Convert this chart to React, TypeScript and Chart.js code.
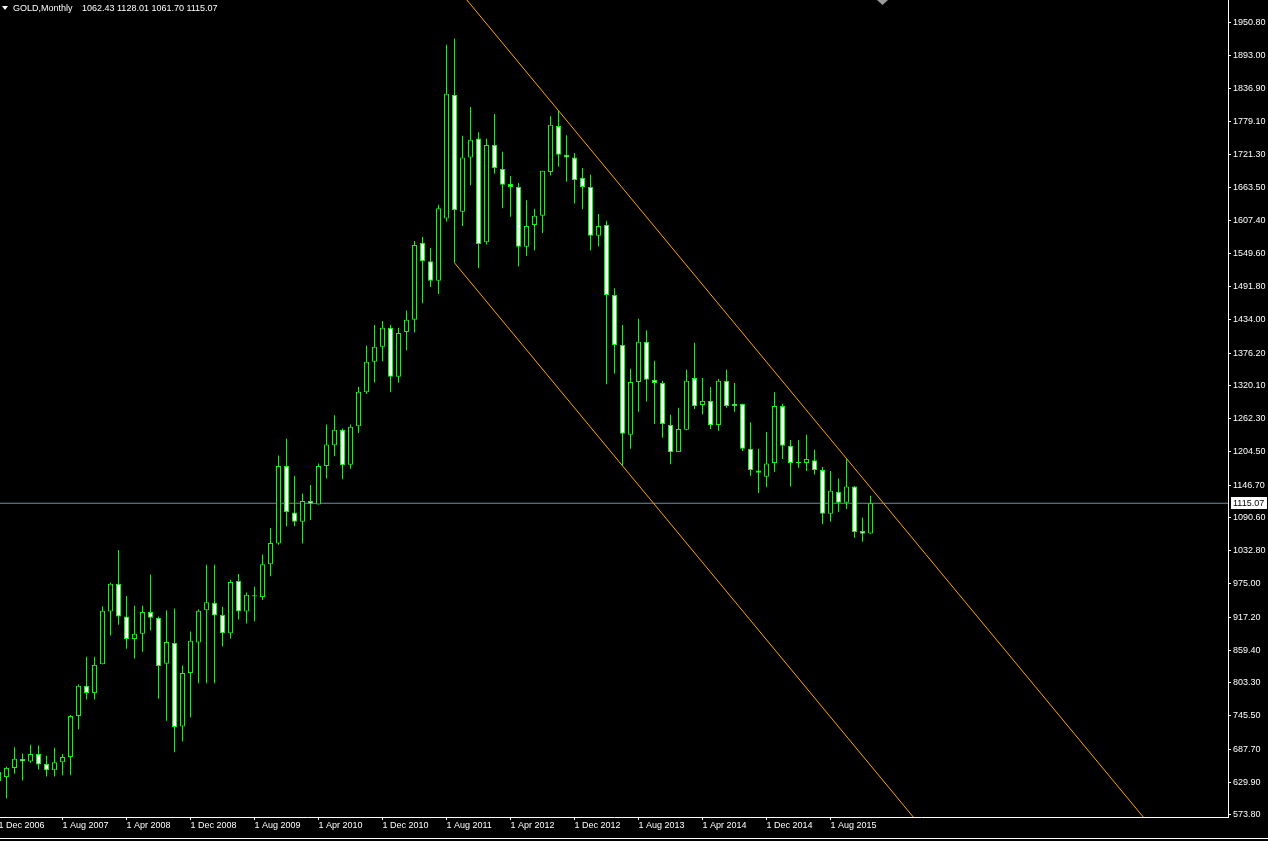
import React, { useEffect, useRef } from 'react';
import { Chart, registerables } from 'chart.js';

Chart.register(...registerables);

// Monthly GOLD candles, Dec 2006 (index 0) .. Jan 2016 (index 109)
const opens = [
  648, 639, 655, 671, 666, 679, 662, 651, 665, 674, 745, 798, 785,
  835, 927, 975, 918, 879, 888, 926, 916, 836, 872, 727, 820,
  873, 929, 942, 921, 889, 980, 927, 955, 952, 1009, 1045, 1180,
  1099, 1083, 1119, 1113, 1180, 1216, 1243, 1182, 1249, 1308, 1361, 1387,
  1420, 1335, 1413, 1434, 1568, 1536, 1502, 1610, 1825, 1622, 1716, 1749,
  1569, 1738, 1696, 1670, 1665, 1561, 1599, 1615, 1691, 1771, 1721, 1716,
  1681, 1665, 1580, 1599, 1477, 1390, 1234, 1326, 1396, 1330, 1324, 1251,
  1204, 1243, 1333, 1286, 1293, 1251, 1328, 1288, 1288, 1210, 1172, 1161,
  1185, 1284, 1215, 1185, 1185, 1190, 1173, 1097, 1135, 1116, 1144, 1067,
  1062.43,
];
const highs = [
  650, 657, 691, 680, 695, 694, 676, 690, 679, 747, 800, 848, 848,
  936, 977, 1034, 954, 937, 937, 991, 918, 929, 932, 833, 892,
  931, 1008, 1008, 935, 982, 992, 960, 970, 1026, 1072, 1198, 1227,
  1163, 1132, 1147, 1184, 1252, 1268, 1245, 1252, 1317, 1389, 1425, 1432,
  1425, 1420, 1450, 1571, 1578, 1559, 1634, 1912, 1923, 1754, 1804, 1760,
  1749, 1792, 1726, 1684, 1672, 1642, 1627, 1693, 1788, 1797, 1755, 1724,
  1698, 1686, 1618, 1606, 1489, 1425, 1349, 1436, 1416, 1363, 1328, 1269,
  1281, 1347, 1394, 1333, 1317, 1331, 1347, 1324, 1288, 1256, 1210, 1239,
  1308, 1288, 1225, 1225, 1234, 1208, 1178, 1171, 1158, 1192, 1145, 1090,
  1128.01,
];
const lows = [
  613, 602, 645, 633, 664, 652, 640, 640, 642, 642, 722, 774, 774,
  835, 885, 904, 862, 845, 857, 894, 775, 737, 682, 701, 743,
  802, 802, 802, 866, 880, 913, 906, 910, 947, 988, 1043, 1075,
  1075, 1045, 1086, 1113, 1158, 1197, 1157, 1175, 1237, 1305, 1325, 1362,
  1308, 1325, 1381, 1412, 1463, 1491, 1479, 1605, 1533, 1597, 1668, 1524,
  1565, 1688, 1628, 1613, 1527, 1545, 1555, 1585, 1685, 1700, 1674, 1636,
  1626, 1555, 1562, 1322, 1340, 1180, 1210, 1274, 1292, 1253, 1229, 1183,
  1204, 1242, 1279, 1270, 1244, 1241, 1281, 1274, 1206, 1163, 1133, 1143,
  1170, 1192, 1144, 1177, 1171, 1165, 1079, 1083, 1100, 1105, 1055, 1048,
  1061.70,
];
const closes = [
  632, 655, 671, 666, 679, 661, 651, 665, 674, 745, 798, 785, 834,
  928, 975, 918, 879, 888, 926, 916, 832, 874, 726, 820, 876,
  928, 943, 920, 889, 978, 927, 956, 953, 1009, 1046, 1180, 1100,
  1083, 1119, 1114, 1180, 1217, 1243, 1181, 1248, 1309, 1361, 1387, 1420,
  1335, 1411, 1434, 1564, 1536, 1502, 1628, 1827, 1625, 1716, 1747, 1566,
  1738, 1698, 1669, 1665, 1561, 1597, 1615, 1693, 1773, 1721, 1716, 1677,
  1665, 1580, 1597, 1477, 1390, 1236, 1326, 1396, 1330, 1324, 1253, 1204,
  1244, 1328, 1284, 1293, 1251, 1328, 1284, 1284, 1210, 1173, 1168, 1184,
  1284, 1215, 1185, 1185, 1192, 1173, 1097, 1137, 1116, 1144, 1065, 1062,
  1115.07,
];

const yTickValues = [
  1950.8, 1893.0, 1836.9, 1779.1, 1721.3, 1663.5, 1607.4, 1549.6, 1491.8,
  1434.0, 1376.2, 1320.1, 1262.3, 1204.5, 1146.7, 1090.6, 1032.8, 975.0,
  917.2, 859.4, 803.3, 745.5, 687.7, 629.9, 573.8,
];
const xTickIndices = [0, 8, 16, 24, 32, 40, 48, 56, 64, 72, 80, 88, 96, 104];
const xTickLabels = [
  '1 Dec 2006', '1 Aug 2007', '1 Apr 2008', '1 Dec 2008', '1 Aug 2009',
  '1 Apr 2010', '1 Dec 2010', '1 Aug 2011', '1 Apr 2012', '1 Dec 2012',
  '1 Aug 2013', '1 Apr 2014', '1 Dec 2014', '1 Aug 2015',
];

const bidPrice = 1115.07;
const upperChannel = [{ x: 56, y: 2032.8 }, { x: 146, y: 520.8 }];
const lowerChannel = [{ x: 57, y: 1533 }, { x: 117, y: 525 }];

const symbolTitle = 'GOLD,Monthly';
const lastBarText = '1062.43 1128.01 1061.70 1115.07';

const yMin = 569.6;
const yMax = 1990;
const xMin = 0.1875;
const xMax = 153.6875;

const FONT = '"Liberation Sans", Arial, sans-serif';
const GREEN = '#00FF00';

const decorPlugin = {
  id: 'mtDecor',
  beforeDraw(chart: any) {
    const ctx = chart.ctx;
    ctx.save();
    ctx.fillStyle = '#000000';
    ctx.fillRect(0, 0, chart.width, chart.height);
    ctx.restore();
  },
  afterDraw(chart: any) {
    const ctx = chart.ctx;
    const area = chart.chartArea;
    ctx.save();
    // bid price box on the price axis
    const yb = Math.round(chart.scales.y.getPixelForValue(bidPrice));
    ctx.fillStyle = '#FFFFFF';
    ctx.fillRect(area.right + 3, yb - 6, 36, 12);
    ctx.fillStyle = '#000000';
    ctx.font = '9px ' + FONT;
    ctx.textBaseline = 'middle';
    ctx.textAlign = 'left';
    ctx.fillText(bidPrice.toFixed(2), area.right + 5, yb + 0.5);
    // title
    ctx.fillStyle = '#FFFFFF';
    ctx.beginPath();
    ctx.moveTo(2, 6);
    ctx.lineTo(8, 6);
    ctx.lineTo(5, 10);
    ctx.closePath();
    ctx.fill();
    ctx.fillText(symbolTitle, 13, 8.5);
    ctx.fillText(lastBarText, 82, 8.5);
    // chart shift marker
    ctx.fillStyle = '#9A9A9A';
    ctx.beginPath();
    ctx.moveTo(877, 0);
    ctx.lineTo(888, 0);
    ctx.lineTo(882.5, 5);
    ctx.closePath();
    ctx.fill();
    // bottom frame line
    ctx.fillStyle = '#FFFFFF';
    ctx.fillRect(0, 838, chart.width, 1);
    ctx.restore();
  },
};

export default function App() {
  const canvasRef = useRef<HTMLCanvasElement | null>(null);

  useEffect(() => {
    document.body.style.margin = '0';
    document.body.style.background = '#000';
    const canvas = canvasRef.current;
    if (!canvas) return;
    const idx = opens.map((_, i) => i);
    const wickData = idx.map((i) => ({ x: i, y: [lows[i], highs[i]] }));
    const bodyData = idx.map((i) => ({ x: i, y: [opens[i], closes[i]] }));
    const bodyFill = idx.map((i) => (closes[i] < opens[i] ? '#FFFFFF' : '#000000'));
    const bidLine = [{ x: xMin, y: bidPrice }, { x: xMax, y: bidPrice }];

    const chart = new Chart(canvas, {
      type: 'bar',
      data: {
        datasets: [
          {
            type: 'line',
            data: upperChannel,
            borderColor: '#FFA500',
            borderWidth: 1,
            pointRadius: 0,
            order: 1,
          } as any,
          {
            type: 'line',
            data: lowerChannel,
            borderColor: '#FFA500',
            borderWidth: 1,
            pointRadius: 0,
            order: 1,
          } as any,
          {
            type: 'bar',
            data: bodyData,
            backgroundColor: bodyFill,
            borderColor: GREEN,
            borderWidth: 1,
            borderSkipped: false,
            barThickness: 5,
            grouped: false,
            minBarLength: 1,
            inflateAmount: 0,
            order: 2,
          } as any,
          {
            type: 'bar',
            data: wickData,
            backgroundColor: GREEN,
            borderWidth: 0,
            barThickness: 1,
            grouped: false,
            inflateAmount: 0,
            order: 3,
          } as any,
          {
            type: 'line',
            data: bidLine,
            borderColor: '#778899',
            borderWidth: 1,
            pointRadius: 0,
            order: 4,
          } as any,
        ],
      },
      options: {
        responsive: false,
        animation: false,
        devicePixelRatio: 1,
        events: [],
        layout: { padding: 0 },
        plugins: {
          legend: { display: false },
          tooltip: { enabled: false },
          title: { display: false },
        },
        scales: {
          x: {
            type: 'linear',
            position: 'bottom',
            min: xMin,
            max: xMax,
            bounds: 'data',
            offset: false,
            afterBuildTicks: (s: any) => {
              s.ticks = xTickIndices.map((v) => ({ value: v }));
            },
            afterFit: (s: any) => {
              s.height = 24;
              s.paddingLeft = 0;
              s.paddingRight = 0;
            },
            ticks: {
              autoSkip: false,
              maxRotation: 0,
              minRotation: 0,
              align: 'start',
              padding: 0,
              color: '#FFFFFF',
              font: { family: FONT, size: 9 },
              callback: (_v: any, i: number) => xTickLabels[i],
            },
            grid: {
              offset: false,
              drawOnChartArea: false,
              drawTicks: true,
              tickLength: 3,
              color: '#FFFFFF',
            },
            border: { display: true, color: '#FFFFFF', width: 1 },
          },
          y: {
            type: 'linear',
            position: 'right',
            min: yMin,
            max: yMax,
            bounds: 'data',
            afterBuildTicks: (s: any) => {
              s.ticks = yTickValues.map((v) => ({ value: v }));
            },
            afterFit: (s: any) => {
              s.width = 40;
              s.paddingTop = 0;
              s.paddingBottom = 0;
            },
            ticks: {
              autoSkip: false,
              padding: 2,
              color: '#FFFFFF',
              font: { family: FONT, size: 9 },
              callback: (v: any) => Number(v).toFixed(2),
            },
            grid: {
              drawOnChartArea: false,
              drawTicks: true,
              tickLength: 3,
              color: '#FFFFFF',
            },
            border: { display: true, color: '#FFFFFF', width: 1 },
          },
        },
      } as any,
      plugins: [decorPlugin],
    });
    return () => chart.destroy();
  }, []);

  return (
    <div style={{ position: 'fixed', left: 0, top: 0, width: 1268, height: 841, background: '#000' }}>
      <canvas ref={canvasRef} width={1268} height={841} style={{ display: 'block', width: 1268, height: 841 }} />
    </div>
  );
}
